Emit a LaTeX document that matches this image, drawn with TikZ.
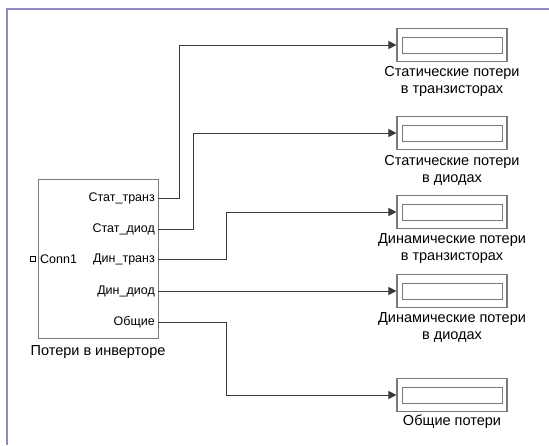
\documentclass[tikz,border=0pt]{standalone}
\usepackage{fontspec}
\setmainfont{Liberation Sans}
\usetikzlibrary{arrows.meta}
\definecolor{framec}{HTML}{9189BF}
\definecolor{wirec}{HTML}{3A3A3A}
\definecolor{boxc}{HTML}{7A7A7A}
\tikzset{
  wire/.style={draw=wirec, line width=0.9pt},
  sigwire/.style={wire, -{Triangle[length=8pt,width=8pt]}},
  dispouter/.style={draw=boxc, line width=1.1pt, minimum width=110pt, minimum height=33pt, inner sep=0pt},
  dispinner/.style={draw=boxc, line width=1pt, minimum width=100pt, minimum height=16pt, inner sep=0pt},
  lbl/.style={font=\fontsize{14.5}{17}\selectfont, align=center, inner sep=0pt},
  port/.style={font=\fontsize{12.5}{14}\selectfont, inner sep=0pt, anchor=east},
}
\begin{document}
\begin{tikzpicture}[x=1pt,y=-1pt]
\useasboundingbox (0,0) rectangle (549,445);
% window frame
\draw[framec, line width=2.8pt] (7,445) -- (7,9) -- (549,9);

% subsystem block
\node[draw=boxc, line width=1pt, minimum width=120pt, minimum height=159pt, inner sep=0pt] (sub) at (98,259) {};
\node[lbl, anchor=north] (subname) at (98,345) {Потери в инверторе};
\node[draw=black, line width=0.8pt, fill=white, minimum size=4.5pt, inner sep=0pt] (cport) at (33,259) {};
\node[port, anchor=west] (conn) at (40,259) {Conn1};
\node[port] (p1) at (155,198) {Стат\_транз};
\node[port] (p2) at (155,229) {Стат\_диод};
\node[port] (p3) at (155,259) {Дин\_транз};
\node[port] (p4) at (155,291) {Дин\_диод};
\node[port] (p5) at (155,322) {Общие};
\coordinate (o1) at (158,198);
\coordinate (o2) at (158,229);
\coordinate (o3) at (158,259);
\coordinate (o4) at (158,291);
\coordinate (o5) at (158,322);

% display blocks
\foreach \n/\y in {1/45,2/133,3/212,4/291,5/395}{
  \node[dispouter] (d\n) at (452,\y) {};
  \node[dispinner] (di\n) at (452,\y) {};
}
\node[lbl, anchor=north] (t1) at (452,66) {Статические потери\\в транзисторах};
\node[lbl, anchor=north] (t2) at (452,155) {Статические потери\\в диодах};
\node[lbl, anchor=north] (t3) at (452,233) {Динамические потери\\в транзисторах};
\node[lbl, anchor=north] (t4) at (452,312) {Динамические потери\\в диодах};
\node[lbl, anchor=north] (t5) at (452,415) {Общие потери};

% signal lines
\draw[sigwire] (o1) -| (179,45) -- (d1.west);
\draw[sigwire] (o2) -| (193,133) -- (d2.west);
\draw[sigwire] (o3) -| (226,212) -- (d3.west);
\draw[sigwire] (o4) -- (d4.west);
\draw[sigwire] (o5) -| (226,395) -- (d5.west);
\end{tikzpicture}
\end{document}
